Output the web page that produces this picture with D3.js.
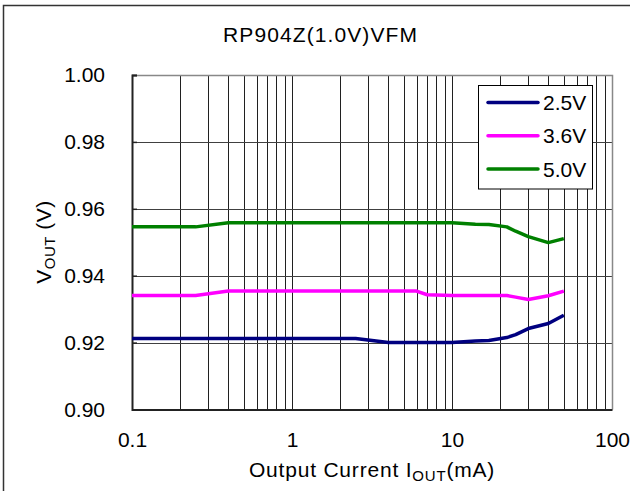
<!DOCTYPE html>
<html>
<head>
<meta charset="utf-8">
<script src="https://cdn.jsdelivr.net/npm/d3@7"></script>
<style>
  html, body { margin: 0; padding: 0; background: #fff; }
  svg { display: block; font-family: "Liberation Sans", Arial, sans-serif; }
</style>
</head>
<body>
<div id="chart"></div>
<script>
// data
const current = [0.1, 0.25, 0.4, 1, 2.5, 4, 6, 7, 10, 14, 17, 22, 25, 30, 40, 50]; // mA
const vout25 = [0.9212, 0.9212, 0.9212, 0.9212, 0.9212, 0.9200, 0.9200, 0.9200, 0.9200, 0.9205, 0.9206, 0.9215, 0.9224, 0.9242, 0.9257, 0.9282];
const vout36 = [0.9341, 0.9341, 0.9354, 0.9354, 0.9354, 0.9354, 0.9354, 0.9343, 0.9341, 0.9341, 0.9341, 0.9341, 0.9336, 0.9329, 0.9340, 0.9354];
const vout50 = [0.9546, 0.9546, 0.9558, 0.9558, 0.9558, 0.9558, 0.9558, 0.9558, 0.9558, 0.9554, 0.9553, 0.9546, 0.9533, 0.9517, 0.9499, 0.9511];
const seriesNames = ["2.5V", "3.6V", "5.0V"];
const seriesColors = ["#000080", "#ff00ff", "#008000"];
const yTicks = [0.90, 0.92, 0.94, 0.96, 0.98, 1.00];
const xTicks = [0.1, 1, 10, 100];

(function () {
    const W = 630, H = 491;
    const left = 132, right = 612, top = 75, bottom = 409.5;

    const svg = d3.select("#chart").append("svg")
        .attr("width", W).attr("height", H);

    // outer frame (only top / left visible in the reference)
    svg.append("path")
        .attr("d", `M3.5,${H + 2} V5.5 H${W + 2}`)
        .attr("fill", "none").attr("stroke", "#333").attr("stroke-width", 1.5);

    const x = d3.scaleLog().domain([0.1, 100]).range([left, right]);
    const y = d3.scaleLinear().domain([0.90, 1.00]).range([bottom, top]);

    // minor + major vertical grid lines
    const vGrid = [];
    for (let dec = 0.1; dec < 100; dec *= 10) {
        for (let k = 2; k <= 10; k++) vGrid.push(+(dec * k).toPrecision(3));
    }
    svg.append("g").selectAll("line")
        .data(vGrid.filter(v => v < 100))
        .join("line")
        .attr("x1", d => Math.round(x(d)) + 0.5).attr("x2", d => Math.round(x(d)) + 0.5)
        .attr("y1", top).attr("y2", bottom)
        .attr("stroke", "#202020").attr("stroke-width", 1);

    svg.append("g").selectAll("line")
        .data(yTicks.slice(1, -1))
        .join("line")
        .attr("x1", left).attr("x2", right)
        .attr("y1", d => Math.round(y(d)) + 0.5).attr("y2", d => Math.round(y(d)) + 0.5)
        .attr("stroke", "#404040").attr("stroke-width", 1);

    // top and right border (gray)
    svg.append("path")
        .attr("d", `M${left},${top + 0.5} H${right + 0.5} V${bottom}`)
        .attr("fill", "none").attr("stroke", "#888").attr("stroke-width", 1.5);

    // left axis
    const yAxis = d3.axisLeft(y).tickValues(yTicks).tickSize(-5).tickPadding(27)
        .tickFormat(d3.format(".2f"));
    const gy = svg.append("g").attr("transform", `translate(${left},0)`).call(yAxis);
    gy.select(".domain").attr("stroke", "#222").attr("stroke-width", 2);
    gy.selectAll(".tick line").attr("stroke", "#222").attr("stroke-width", 1.5);
    gy.selectAll("text").attr("font-size", 21).attr("fill", "#000")
        .attr("font-family", "Liberation Sans, Arial, sans-serif").attr("dy", "0.33em");

    // bottom axis
    const xAxis = d3.axisBottom(x).tickValues(xTicks).tickSize(0).tickPadding(23)
        .tickFormat(d => d3.format("~g")(d));
    const gx = svg.append("g").attr("transform", `translate(0,${bottom})`).call(xAxis);
    gx.select(".domain").attr("stroke", "#222").attr("stroke-width", 2);
    gx.selectAll("text").attr("font-size", 21).attr("fill", "#000")
        .attr("font-family", "Liberation Sans, Arial, sans-serif");

    // series lines
    const allSeries = [vout25, vout36, vout50];
    const line = d3.line().x((d, i) => x(current[i])).y(d => y(d));
    svg.append("g").selectAll("path")
        .data(allSeries)
        .join("path")
        .attr("d", d => line(d))
        .attr("fill", "none")
        .attr("stroke", (d, i) => seriesColors[i])
        .attr("stroke-width", 3.5)
        .attr("stroke-linejoin", "round");

    // legend
    const lg = svg.append("g");
    lg.append("rect")
        .attr("x", 478.5).attr("y", 85.5).attr("width", 114).attr("height", 103.5)
        .attr("fill", "#fff").attr("stroke", "#000").attr("stroke-width", 1);
    seriesNames.forEach((name, i) => {
        const ly = 102.5 + i * 33.3;
        lg.append("line")
            .attr("x1", 488).attr("x2", 538).attr("y1", ly).attr("y2", ly)
            .attr("stroke", seriesColors[i]).attr("stroke-width", 3.5)
            .attr("stroke-linecap", "round");
        lg.append("text")
            .attr("x", 543).attr("y", ly + 7.5)
            .attr("font-size", 21).text(name);
    });

    // title
    svg.append("text")
        .attr("x", 320).attr("y", 42)
        .attr("text-anchor", "middle").attr("font-size", 21)
        .attr("textLength", 194).attr("lengthAdjust", "spacing")
        .text("RP904Z(1.0V)VFM");

    // x axis label with subscript
    const xl = svg.append("text")
        .attr("x", 372).attr("y", 477)
        .attr("text-anchor", "middle").attr("font-size", 21)
        .attr("letter-spacing", 0.8);
    xl.append("tspan").text("Output Current I");
    xl.append("tspan").attr("font-size", 15).attr("dy", 4).text("OUT");
    xl.append("tspan").attr("dy", -4).text("(mA)");

    // y axis label with subscript
    const yl = svg.append("text")
        .attr("transform", "translate(51,242) rotate(-90)")
        .attr("text-anchor", "middle").attr("font-size", 21)
        .attr("letter-spacing", 0.5);
    yl.append("tspan").text("V");
    yl.append("tspan").attr("font-size", 15).attr("dy", 4).text("OUT");
    yl.append("tspan").attr("dy", -4).text(" (V)");
})();
</script>
</body>
</html>
